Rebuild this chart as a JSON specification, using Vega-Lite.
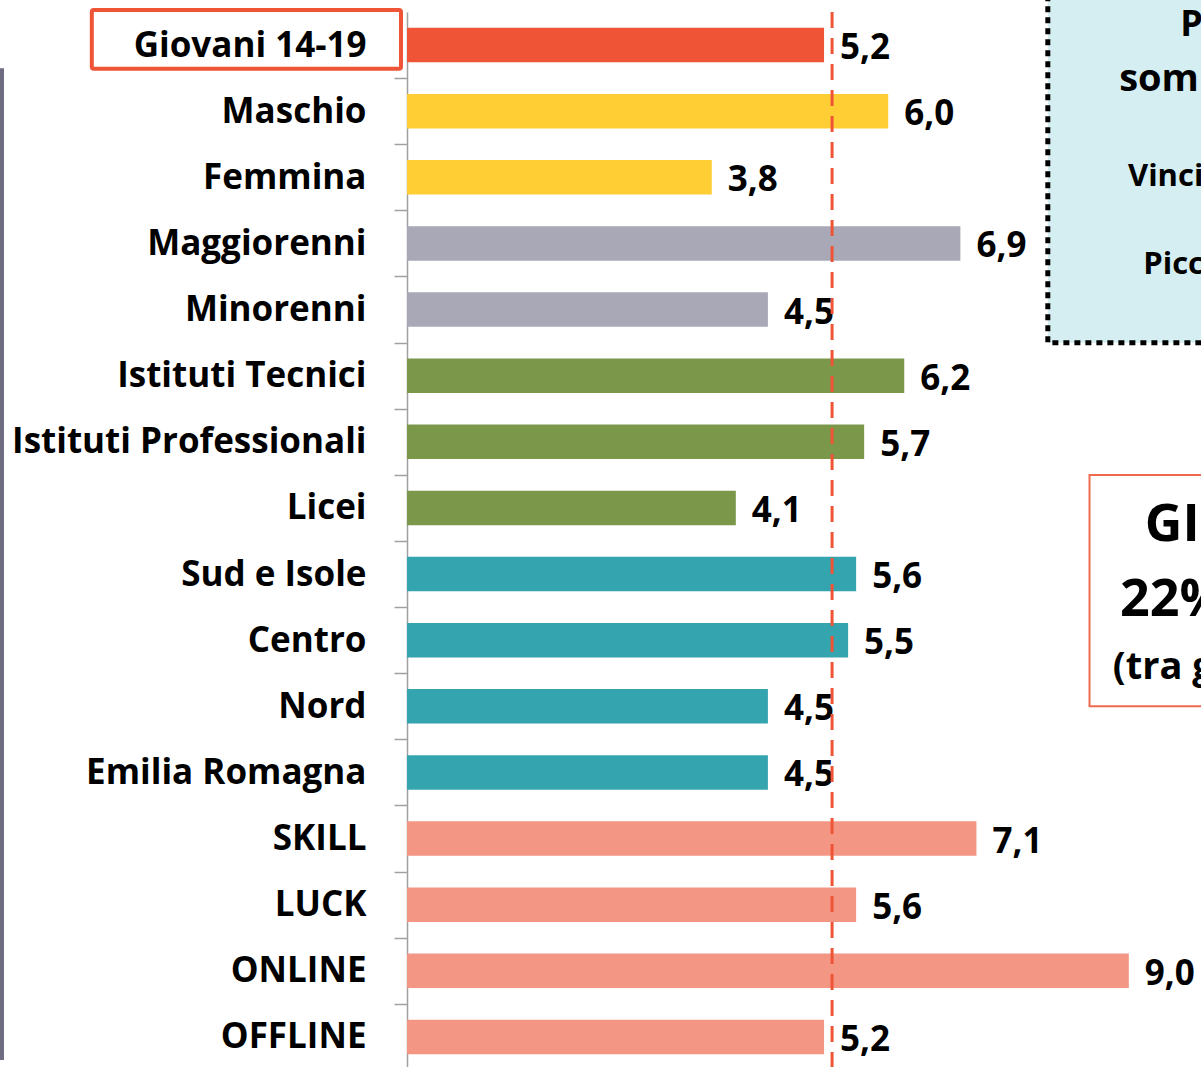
{
  "$schema": "https://vega.github.io/schema/vega-lite/v6.json",
  "autosize": {"type": "none"},
  "padding": {"left": 407, "top": 12, "right": 0, "bottom": 0},
  "width": 794,
  "height": 1058,
  "background": "white",
  "config": {
    "view": {"stroke": null},
    "font": "Open Sans",
    "locale": {"number": {"decimal": ",", "thousands": ".", "grouping": [3], "currency": ["€", ""]}}
  },
  "datasets": {
    "bars": [
      {"cat": "Giovani 14-19", "value": 5.2, "group": "tot"},
      {"cat": "Maschio", "value": 6.0, "group": "sesso"},
      {"cat": "Femmina", "value": 3.8, "group": "sesso"},
      {"cat": "Maggiorenni", "value": 6.9, "group": "eta"},
      {"cat": "Minorenni", "value": 4.5, "group": "eta"},
      {"cat": "Istituti Tecnici", "value": 6.2, "group": "scuola"},
      {"cat": "Istituti Professionali", "value": 5.7, "group": "scuola"},
      {"cat": "Licei", "value": 4.1, "group": "scuola"},
      {"cat": "Sud e Isole", "value": 5.6, "group": "area"},
      {"cat": "Centro", "value": 5.5, "group": "area"},
      {"cat": "Nord", "value": 4.5, "group": "area"},
      {"cat": "Emilia Romagna", "value": 4.5, "group": "area"},
      {"cat": "SKILL", "value": 7.1, "group": "gioco"},
      {"cat": "LUCK", "value": 5.6, "group": "gioco"},
      {"cat": "ONLINE", "value": 9.0, "group": "gioco"},
      {"cat": "OFFLINE", "value": 5.2, "group": "gioco"}
    ],
    "boxes": [
      {"name": "dotted", "x": 7.99, "x2": 11, "r": -1, "r2": 5.0},
      {"name": "red", "x": 8.51, "x2": 11, "r": 7.0, "r2": 10.5}
    ],
    "labelbox": [
      {"x": -3.93, "x2": -0.075, "r": -0.03, "r2": 0.86}
    ],
    "leftline": [
      {"x": -5.05, "r": 0.85, "r2": 15.85}
    ],
    "notes": [
      {"t": "PGSI", "x": 9.64, "r": 0.2, "size": 36},
      {"t": "somma", "x": 8.88, "r": 1.03, "size": 38},
      {"t": "Vincite", "x": 8.99, "r": 2.5, "size": 31},
      {"t": "Piccole", "x": 9.18, "r": 3.83, "size": 31},
      {"t": "GIOCATORI", "x": 9.2, "r": 7.76, "size": 52},
      {"t": "22%", "x": 8.89, "r": 8.89, "size": 52},
      {"t": "(tra giovani)", "x": 8.8, "r": 9.92, "size": 38}
    ]
  },
  "resolve": {"scale": {"y": "independent"}},
  "layer": [
    {
      "data": {"name": "boxes"},
      "mark": {"type": "rect", "strokeWidth": 5, "strokeDash": [6, 5], "stroke": "black", "fill": "#D5EEF2"},
      "transform": [{"filter": "datum.name == 'dotted'"}],
      "encoding": {
        "x": {"field": "x", "type": "quantitative", "scale": {"domain": [0, 9.9], "nice": false, "zero": true}, "axis": null},
        "x2": {"field": "x2"},
        "y": {"field": "r", "type": "quantitative", "scale": {"domain": [0, 16], "reverse": true, "nice": false, "zero": false}, "axis": null},
        "y2": {"field": "r2"}
      }
    },
    {
      "data": {"name": "boxes"},
      "mark": {"type": "rect", "strokeWidth": 2, "stroke": "#F06A50", "fill": "white"},
      "transform": [{"filter": "datum.name == 'red'"}],
      "encoding": {
        "x": {"field": "x", "type": "quantitative", "scale": {"domain": [0, 9.9], "nice": false, "zero": true}, "axis": null},
        "x2": {"field": "x2"},
        "y": {"field": "r", "type": "quantitative", "scale": {"domain": [0, 16], "reverse": true, "nice": false, "zero": false}, "axis": null},
        "y2": {"field": "r2"}
      }
    },
    {
      "data": {"name": "bars"},
      "mark": {"type": "bar"},
      "encoding": {
        "y": {
          "field": "cat", "type": "nominal", "sort": null,
          "scale": {"paddingInner": 0.48, "paddingOuter": 0.24},
          "axis": {
            "title": null,
            "domainColor": "#A0A0A0", "domainWidth": 1.5,
            "tickColor": "#A0A0A0", "tickWidth": 1.5, "tickSize": 13, "tickBand": "center",
            "tickOffset": 33.06, "labelOffset": -33.06,
            "labelPadding": 28, "labelFont": "Open Sans", "labelFontSize": 35, "labelFontWeight": "bold",
            "labelColor": "black", "labelLimit": 500
          }
        },
        "x": {"field": "value", "type": "quantitative", "scale": {"domain": [0, 9.9], "nice": false, "zero": true}, "axis": null},
        "color": {
          "field": "group", "type": "nominal", "legend": null,
          "scale": {
            "domain": ["tot", "sesso", "eta", "scuola", "area", "gioco"],
            "range": ["#EF5437", "#FFCE35", "#A9A8B6", "#7B984A", "#34A4AF", "#F39684"]
          }
        }
      }
    },
    {
      "data": {"name": "bars"},
      "mark": {"type": "text", "align": "left", "baseline": "middle", "dx": 16, "dy": 3, "font": "Open Sans", "fontSize": 35, "fontWeight": "bold", "color": "black"},
      "encoding": {
        "y": {"field": "cat", "type": "nominal", "sort": null, "scale": {"paddingInner": 0.48, "paddingOuter": 0.24}, "axis": null},
        "x": {"field": "value", "type": "quantitative", "scale": {"domain": [0, 9.9], "nice": false, "zero": true}, "axis": null},
        "text": {"field": "value", "type": "quantitative", "format": ".1f"}
      }
    },
    {
      "data": {"values": [{"v": 5.3}]},
      "mark": {"type": "rule", "color": "#EF5437", "strokeWidth": 3, "strokeDash": [16, 10]},
      "encoding": {
        "x": {"field": "v", "type": "quantitative", "scale": {"domain": [0, 9.9], "nice": false, "zero": true}, "axis": null}
      }
    },
    {
      "data": {"name": "labelbox"},
      "mark": {"type": "rect", "strokeWidth": 4, "stroke": "#EF5437", "fill": null, "fillOpacity": 0, "cornerRadius": 2},
      "encoding": {
        "x": {"field": "x", "type": "quantitative", "scale": {"domain": [0, 9.9], "nice": false, "zero": true}, "axis": null},
        "x2": {"field": "x2"},
        "y": {"field": "r", "type": "quantitative", "scale": {"domain": [0, 16], "reverse": true, "nice": false, "zero": false}, "axis": null},
        "y2": {"field": "r2"}
      }
    },
    {
      "data": {"name": "leftline"},
      "mark": {"type": "rule", "color": "#6E6C82", "strokeWidth": 4},
      "encoding": {
        "x": {"field": "x", "type": "quantitative", "scale": {"domain": [0, 9.9], "nice": false, "zero": true}, "axis": null},
        "y": {"field": "r", "type": "quantitative", "scale": {"domain": [0, 16], "reverse": true, "nice": false, "zero": false}, "axis": null},
        "y2": {"field": "r2"}
      }
    },
    {
      "data": {"name": "notes"},
      "mark": {"type": "text", "align": "left", "baseline": "middle", "font": "Open Sans", "fontWeight": "bold", "color": "black"},
      "encoding": {
        "x": {"field": "x", "type": "quantitative", "scale": {"domain": [0, 9.9], "nice": false, "zero": true}, "axis": null},
        "y": {"field": "r", "type": "quantitative", "scale": {"domain": [0, 16], "reverse": true, "nice": false, "zero": false}, "axis": null},
        "text": {"field": "t"},
        "size": {"field": "size", "type": "quantitative", "scale": null}
      }
    }
  ]
}
